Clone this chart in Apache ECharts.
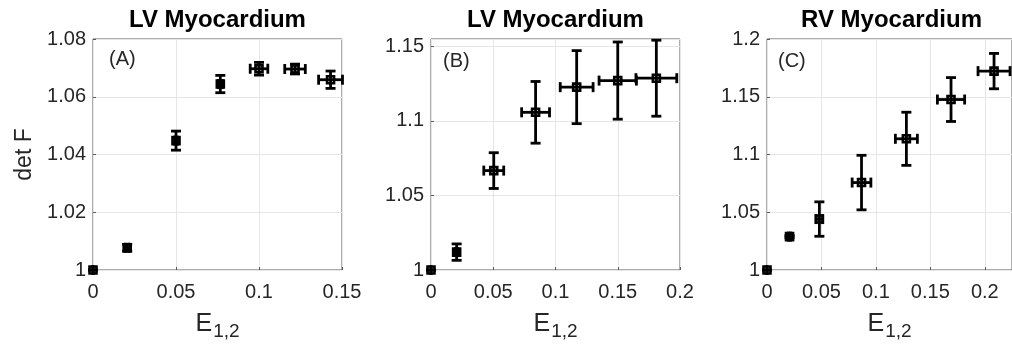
<!DOCTYPE html>
<html>
<head>
<meta charset="utf-8">
<script src="https://cdn.jsdelivr.net/npm/echarts@6/dist/echarts.min.js"></script>
<style>
  html, body { margin: 0; padding: 0; background: #fff; }
  #chart { width: 1012px; height: 354px; }
</style>
</head>
<body>
<div id="chart"></div>
<script>
// ---------- data ----------
const titles = ['LV Myocardium', 'LV Myocardium', 'RV Myocardium'];
const panelTags = ['(A)', '(B)', '(C)'];
const yAxisName = 'det F';

// Panel A
const xA    = [0, 0.0206, 0.05, 0.0767, 0.10, 0.1217, 0.1431];
const yA    = [1, 1.0077, 1.0448, 1.0644, 1.0697, 1.0696, 1.0659];
const xErrA = [0, 0.0010, 0.0008, 0.0012, 0.0053, 0.0062, 0.0072];
const yErrA = [0, 0.0012, 0.0033, 0.0030, 0.0022, 0.0017, 0.0030];

// Panel B
const xB    = [0, 0.0206, 0.0504, 0.084, 0.117, 0.150, 0.181];
const yB    = [1, 1.012, 1.0667, 1.1058, 1.1227, 1.1271, 1.1287];
const xErrB = [0, 0.0010, 0.0080, 0.0112, 0.0132, 0.0150, 0.0164];
const yErrB = [0, 0.0055, 0.0120, 0.0207, 0.0245, 0.0259, 0.0255];

// Panel C
const xC    = [0, 0.0207, 0.0481, 0.0868, 0.128, 0.169, 0.2085];
const yC    = [1, 1.0289, 1.0441, 1.0757, 1.1136, 1.1476, 1.1722];
const xErrC = [0, 0.0010, 0.0030, 0.0086, 0.0101, 0.0125, 0.0147];
const yErrC = [0, 0.0010, 0.0149, 0.0236, 0.0230, 0.0190, 0.0153];

// axis ranges
const xMax = [0.15, 0.2, 0.225];
const xInt = [0.05, 0.05, 0.05];
const yMin = [1, 1, 1];
const yMax = [1.08, 1.155, 1.2];
const yInt = [0.02, 0.05, 0.05];

// ---------- chart ----------
const FONT = '"Liberation Sans", Arial, Helvetica, sans-serif';
const TXT = '#262626';
const panels = [
  {x: xA, y: yA, xe: xErrA, ye: yErrA},
  {x: xB, y: yB, xe: xErrB, ye: yErrB},
  {x: xC, y: yC, xe: xErrC, ye: yErrC}
];
const gridBoxes = [
  {left: 93,  top: 39, width: 249, height: 231},
  {left: 431, top: 39, width: 249, height: 231},
  {left: 767, top: 39, width: 249, height: 231}
];

function errRender(params, api) {
  const x = api.value(0), y = api.value(1), xe = api.value(2), ye = api.value(3);
  const cap = 5;
  const style = {stroke: '#000', lineWidth: 2.8, fill: null};
  const children = [];
  const t = api.coord([x, y + ye]), b = api.coord([x, y - ye]);
  children.push({type: 'line', shape: {x1: t[0], y1: t[1], x2: b[0], y2: b[1]}, style});
  children.push({type: 'line', shape: {x1: t[0] - cap, y1: t[1], x2: t[0] + cap, y2: t[1]}, style});
  children.push({type: 'line', shape: {x1: b[0] - cap, y1: b[1], x2: b[0] + cap, y2: b[1]}, style});
  const l = api.coord([x - xe, y]), r = api.coord([x + xe, y]);
  children.push({type: 'line', shape: {x1: l[0], y1: l[1], x2: r[0], y2: r[1]}, style});
  children.push({type: 'line', shape: {x1: l[0], y1: l[1] - cap, x2: l[0], y2: l[1] + cap}, style});
  children.push({type: 'line', shape: {x1: r[0], y1: r[1] - cap, x2: r[0], y2: r[1] + cap}, style});
  return {type: 'group', children};
}

const grid = [], xAxis = [], yAxis = [], series = [], graphic = [];
panels.forEach((p, i) => {
  const g = gridBoxes[i];
  grid.push(Object.assign({show: true, borderColor: '#5a5a5a', borderWidth: 1, backgroundColor: '#fff'}, g));
  xAxis.push({
    gridIndex: i, type: 'value', min: 0, max: xMax[i], interval: xInt[i],
    axisLine: {show: false},
    axisTick: {show: true, inside: true, length: 3, lineStyle: {color: '#5a5a5a'}},
    splitLine: {show: true, lineStyle: {color: '#e6e6e6', width: 1}},
    axisLabel: {show: true, color: TXT, fontFamily: FONT, fontSize: 20, margin: 12, showMaxLabel: i !== 2},
    name: '{e|E}{s|1,2}', nameLocation: 'middle', nameGap: 40,
    nameTextStyle: {
      rich: {
        e: {fontFamily: FONT, fontSize: 25, color: TXT, lineHeight: 26},
        s: {fontFamily: FONT, fontSize: 19, color: TXT, padding: [15, 0, 0, 1], lineHeight: 26}
      }
    }
  });
  yAxis.push({
    gridIndex: i, type: 'value', min: yMin[i], max: yMax[i], interval: yInt[i],
    axisLine: {show: false},
    axisTick: {show: true, inside: true, length: 3, lineStyle: {color: '#5a5a5a'}},
    splitLine: {show: true, lineStyle: {color: '#e6e6e6', width: 1}},
    axisLabel: {show: true, color: TXT, fontFamily: FONT, fontSize: 20, margin: 7, showMaxLabel: i !== 1},
    name: i === 0 ? yAxisName : '', nameLocation: 'middle', nameGap: 57,
    nameTextStyle: {fontFamily: FONT, fontSize: 23, color: TXT}
  });
  const data = p.x.map((v, k) => [v, p.y[k], p.xe[k], p.ye[k]]);
  series.push({
    type: 'custom', xAxisIndex: i, yAxisIndex: i, renderItem: errRender,
    data: data, clip: false, z: 5, silent: true
  });
  series.push({
    type: 'scatter', xAxisIndex: i, yAxisIndex: i, symbol: 'rect', symbolSize: 7,
    itemStyle: {color: 'rgba(255,255,255,0)', borderColor: '#000', borderWidth: 2.6, opacity: 1},
    data: data.map(d => [d[0], d[1]]), clip: false, z: 10, silent: true
  });
  graphic.push({
    type: 'text', x: g.left + g.width / 2, y: 8, z: 20,
    style: {text: titles[i], font: 'bold 24px ' + FONT, fill: '#000', textAlign: 'center', textVerticalAlign: 'top'}
  });
});
graphic.push({type: 'text', x: 109, y: 49, z: 20, style: {text: panelTags[0], font: '20px ' + FONT, fill: TXT}});
graphic.push({type: 'text', x: 443, y: 51, z: 20, style: {text: panelTags[1], font: '20px ' + FONT, fill: TXT}});
graphic.push({type: 'text', x: 778, y: 51, z: 20, style: {text: panelTags[2], font: '20px ' + FONT, fill: TXT}});

const chart = echarts.init(document.getElementById('chart'), null, {renderer: 'canvas'});
chart.setOption({
  animation: false,
  backgroundColor: '#fff',
  grid, xAxis, yAxis, series, graphic
});
</script>
</body>
</html>
